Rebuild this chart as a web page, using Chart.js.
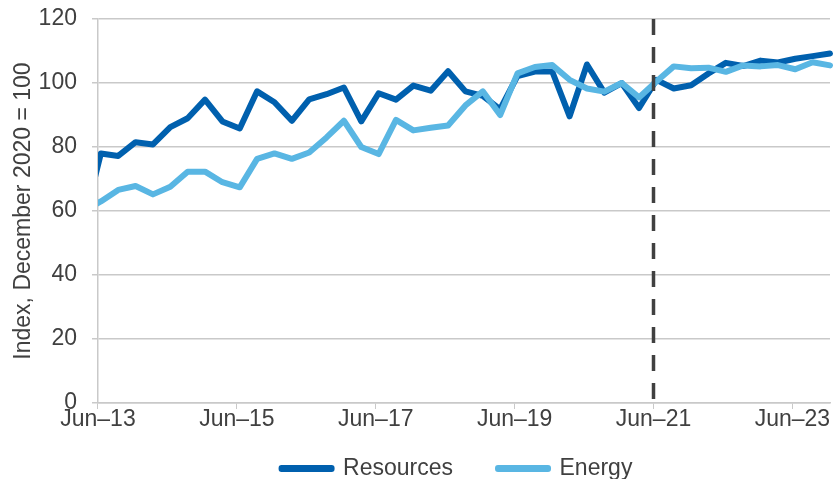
<!DOCTYPE html>
<html>
<head>
<meta charset="utf-8">
<script src="https://cdn.jsdelivr.net/npm/chart.js@4"></script>
<style>
    html, body { margin: 0; padding: 0; background: #fff; }
    #wrap { width: 834px; height: 479px; }
</style>
</head>
<body>
<div id="wrap"><canvas id="resourcesChart"></canvas></div>
<script>
Chart.defaults.font.family = "'Liberation Sans', Arial, sans-serif";
Chart.defaults.font.size = 23;
Chart.defaults.color = "#404040";

const colors = {
    resources: "#0060AE",
    energy: "#59B6E3",
    forecast: "#404040",
    grid: "#C9C9C9",
};

// quarterly observations, Mar-13 sits just left of the axis (clipped)
const quarters = [
    "Mar-13",
    "Jun-13", "Sep-13", "Dec-13", "Mar-14", "Jun-14", "Sep-14", "Dec-14",
    "Mar-15", "Jun-15", "Sep-15", "Dec-15", "Mar-16", "Jun-16", "Sep-16", "Dec-16",
    "Mar-17", "Jun-17", "Sep-17", "Dec-17", "Mar-18", "Jun-18", "Sep-18", "Dec-18",
    "Mar-19", "Jun-19", "Sep-19", "Dec-19", "Mar-20", "Jun-20", "Sep-20", "Dec-20",
    "Mar-21", "Jun-21", "Sep-21", "Dec-21", "Mar-22", "Jun-22", "Sep-22", "Dec-22",
    "Mar-23", "Jun-23", "Sep-23", "Dec-23",
];
const resources = [
    56,
    78, 77.2, 81.5, 80.8, 86.2, 89, 94.8,
    88, 85.8, 97.4, 94, 88.2, 94.9, 96.5, 98.6,
    88, 96.8, 94.8, 99.2, 97.6, 103.7, 97.4, 96,
    91.8, 102.2, 103.6, 103.6, 89.6, 105.8, 97, 100,
    92.2, 101, 98.3, 99.3, 103, 106.3, 105.3, 107,
    106.4, 107.6, 108.4, 109.2,
];
const energy = [
    60,
    63, 66.6, 67.8, 65.2, 67.6, 72.3, 72.3,
    69, 67.4, 76.3, 78, 76.3, 78.3, 83, 88.2,
    80, 77.8, 88.5, 85.2, 86, 86.7, 93, 97.4,
    90, 103, 105, 105.6, 101, 98.3, 97.3, 100,
    95.5, 100.5, 105.2, 104.6, 104.8, 103.5, 105.5, 105.2,
    105.6, 104.3, 106.5, 105.5,
];
const forecastStart = "Jun-21";
const yTicks = [0, 20, 40, 60, 80, 100, 120];
const xTickLabels = ["Jun–13", "Jun–15", "Jun–17", "Jun–19", "Jun–21", "Jun–23"];

const monthNames = ["Jan", "Feb", "Mar", "Apr", "May", "Jun", "Jul", "Aug", "Sep", "Oct", "Nov", "Dec"];
// months since Jun-13
function monthIndex(label) {
    const [mon, yy] = label.split("-");
    return (Number(yy) - 13) * 12 + monthNames.indexOf(mon) - 5;
}
// data are mid-month observations
function toPoints(values) {
    return values.map((v, i) => ({ x: monthIndex(quarters[i]) + 0.5, y: v }));
}
const lastX = monthIndex(quarters[quarters.length - 1]) + 0.5;
const xTickValues = xTickLabels.map((l) => monthIndex(l.replace("–", "-")));

const lineStyle = {
    borderWidth: 6,
    pointRadius: 0,
    pointHoverRadius: 0,
    tension: 0,
    borderJoinStyle: "round",
    borderCapStyle: "round",
    clip: { left: 0, top: 6, right: 6, bottom: 0 },
};

// legend padding also sets the vertical offset, so nudge the legend box
const legendNudge = {
    id: "legendNudge",
    afterLayout(chart) {
        chart.legend.top -= 20;
        chart.legend.left -= 7;
        chart.legend.right -= 7;
    },
};

const ctx = document.getElementById("resourcesChart").getContext("2d");
new Chart(ctx, {
    type: "line",
    data: {
        datasets: [
            {
                label: "Resources",
                data: toPoints(resources),
                borderColor: colors.resources,
                backgroundColor: colors.resources,
                order: 2,
                ...lineStyle,
            },
            {
                label: "Energy",
                data: toPoints(energy),
                borderColor: colors.energy,
                backgroundColor: colors.energy,
                order: 1,
                ...lineStyle,
            },
            {
                label: "forecast",
                data: [
                    { x: monthIndex(forecastStart), y: yTicks[yTicks.length - 1] },
                    { x: monthIndex(forecastStart), y: yTicks[0] },
                ],
                borderColor: colors.forecast,
                borderWidth: 3.5,
                borderDash: [16, 12],
                pointRadius: 0,
                order: 0,
            },
        ],
    },
    plugins: [legendNudge],
    options: {
        responsive: true,
        maintainAspectRatio: false,
        animation: false,
        layout: {
            padding: { top: 0, right: 4, left: 10, bottom: 0 },
        },
        plugins: {
            tooltip: { enabled: false },
            legend: {
                position: "bottom",
                fullSize: false,
                maxHeight: 47,
                labels: {
                    boxWidth: 50,
                    boxHeight: 1,
                    padding: 45,
                    filter: (item) => item.text !== "forecast",
                    sort: (a, b) => a.datasetIndex - b.datasetIndex,
                },
            },
        },
        scales: {
            x: {
                type: "linear",
                min: 0,
                max: lastX,
                afterBuildTicks: (axis) => {
                    axis.ticks = xTickValues.map((v) => ({ value: v }));
                },
                ticks: {
                    callback: (value) => xTickLabels[xTickValues.indexOf(value)],
                    maxRotation: 0,
                    padding: -1,
                    font: { lineHeight: 1 },
                },
                // empty title only reserves room under the tick labels
                title: {
                    display: true,
                    text: "",
                    padding: 0,
                    font: { size: 2, lineHeight: 1 },
                },
                grid: {
                    drawOnChartArea: false,
                    color: colors.grid,
                    tickLength: 6,
                },
                border: { color: colors.grid, width: 1.5 },
            },
            y: {
                min: 0,
                max: 120,
                afterBuildTicks: (axis) => {
                    axis.ticks = yTicks.map((v) => ({ value: v }));
                },
                ticks: {
                    padding: 15,
                    font: { lineHeight: 0.35 },
                },
                title: {
                    display: true,
                    text: "Index, December 2020 = 100",
                    padding: { top: 0, bottom: -14 },
                },
                grid: {
                    color: colors.grid,
                    lineWidth: 1.5,
                    tickLength: 6,
                },
                border: { color: colors.grid, width: 1.5 },
            },
        },
    },
});
</script>
</body>
</html>
